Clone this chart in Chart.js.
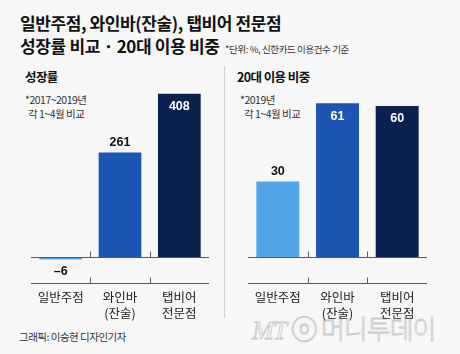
<!DOCTYPE html>
<html><head><meta charset="utf-8">
<script src="https://cdn.jsdelivr.net/npm/chart.js@4"></script>
<style>
body{margin:0;width:460px;height:354px;background:#f7f7f7;position:relative;overflow:hidden;font-family:"Noto Sans CJK KR",sans-serif;color:#111;}
.t{position:absolute;white-space:nowrap;line-height:1;}
canvas{position:absolute;top:0;}
</style></head><body>
<div class="t" style="left:20px;top:14px;font-size:17px;font-weight:700;letter-spacing:-0.4px;">일반주점, 와인바(잔술), 탭비어 전문점</div>
<div class="t" style="left:20px;top:37px;font-size:17px;font-weight:700;letter-spacing:-0.35px;">성장률 비교 · 20대 이용 비중</div>
<div class="t" style="left:225px;top:45px;font-size:9.5px;color:#333;letter-spacing:-0.4px;">*단위: %, 신한카드 이용건수 기준</div>
<div style="position:absolute;left:224px;top:66px;width:1px;height:252px;background:#d0d0d0;"></div>
<div class="t" style="left:25px;top:71px;font-size:12.5px;font-weight:700;letter-spacing:-0.6px;">성장률</div>
<div class="t" style="left:25px;top:95px;font-size:10.5px;color:#333;letter-spacing:-0.5px;">*2017~2019년</div>
<div class="t" style="left:28px;top:109px;font-size:10.5px;color:#333;letter-spacing:-0.5px;">각 1~4월 비교</div>
<div class="t" style="left:237px;top:71px;font-size:12.5px;font-weight:700;letter-spacing:-0.6px;">20대 이용 비중</div>
<div class="t" style="left:240px;top:95px;font-size:10.5px;color:#333;letter-spacing:-0.5px;">*2019년</div>
<div class="t" style="left:244px;top:109px;font-size:10.5px;color:#333;letter-spacing:-0.5px;">각 1~4월 비교</div>
<div class="t" style="left:19px;top:332px;font-size:10.5px;color:#333;letter-spacing:-0.5px;">그래픽: 이승현 디자인기자</div>
<div class="t" style="left:252px;top:315px;font-size:26px;color:transparent;-webkit-text-stroke:0.8px #c8c8c8;font-family:'Liberation Serif',serif;font-style:italic;letter-spacing:-1px;">MT <span style="font-style:normal;font-family:'Noto Sans CJK KR';font-weight:300;">ⓞ 머니투데이</span></div>
<canvas id="c1" width="230" height="354" style="left:0"></canvas>
<canvas id="c2" width="230" height="354" style="left:230px"></canvas>
<script>
const categories = [['일반주점'], ['와인바', '(잔술)'], ['탭비어', '전문점']];
const growthValues = [-6, 261, 408];
const shareValues = [30, 61, 60];
const barColors = ['#52a5e8', '#1b56b3', '#0b2150'];

const overlay = {
  id: 'overlay',
  afterDatasetsDraw(chart) {
    const ctx = chart.ctx, a = chart.chartArea;
    const xs = chart.scales.x, ys = chart.scales.y;
    const y0 = Math.round(ys.getPixelForValue(0)) + 0.5;
    const yb = Math.round(a.bottom) - 0.5;
    ctx.save();
    ctx.strokeStyle = '#5a5a5a';
    ctx.lineWidth = 1;
    ctx.beginPath();
    ctx.moveTo(a.left, y0); ctx.lineTo(a.right, y0);
    ctx.moveTo(a.left, yb); ctx.lineTo(a.right, yb);
    const n = chart.data.labels.length;
    for (let i = 0; i < n - 1; i++) {
      const x = Math.round((xs.getPixelForValue(i) + xs.getPixelForValue(i + 1)) / 2) + 0.5;
      ctx.moveTo(x, y0); ctx.lineTo(x, y0 - 6);
      ctx.moveTo(x, yb); ctx.lineTo(x, yb - 6);
    }
    ctx.stroke();
    // category labels
    ctx.fillStyle = '#222';
    ctx.font = '12.5px "Noto Sans CJK KR"';
    ctx.textAlign = 'center';
    ctx.textBaseline = 'middle';
    chart.data.labels.forEach((lab, i) => {
      const x = xs.getPixelForValue(i);
      lab.forEach((line, j) => ctx.fillText(line, x, 297 + j * 16));
    });
    // value labels
    const meta = chart.getDatasetMeta(0);
    ctx.font = 'bold 12.5px "Liberation Sans"';
    chart.data.datasets[0].data.forEach((v, i) => {
      const bar = meta.data[i];
      const top = Math.min(bar.y, bar.base), bot = Math.max(bar.y, bar.base);
      let y, col = '#111';
      if (v < 0) { y = bot + 12; }
      else if (top < 130) { y = top + 13; col = '#fff'; }
      else { y = top - 10; }
      ctx.fillStyle = col;
      ctx.fillText(v < 0 ? '\u2013' + Math.abs(v) : String(v), bar.x, y);
    });
    ctx.restore();
  }
};

function make(id, values, ymin, ymax, pad) {
  return new Chart(document.getElementById(id), {
    type: 'bar',
    data: { labels: categories, datasets: [{ data: values, backgroundColor: barColors, borderWidth: 0, categoryPercentage: 1, barPercentage: 0.72 }] },
    options: {
      responsive: false, animation: false, devicePixelRatio: 1,
      layout: { padding: pad },
      plugins: { legend: { display: false }, tooltip: { enabled: false } },
      scales: {
        x: { display: false },
        y: { display: false, min: ymin, max: ymax }
      }
    },
    plugins: [overlay]
  });
}
make('c1', growthValues, -67.5, 420, { left: 31, right: 21, top: 89, bottom: 70 });
make('c2', shareValues, -10.7, 66.7, { left: 18, right: 33, top: 89, bottom: 70 });
</script>
</body></html>
